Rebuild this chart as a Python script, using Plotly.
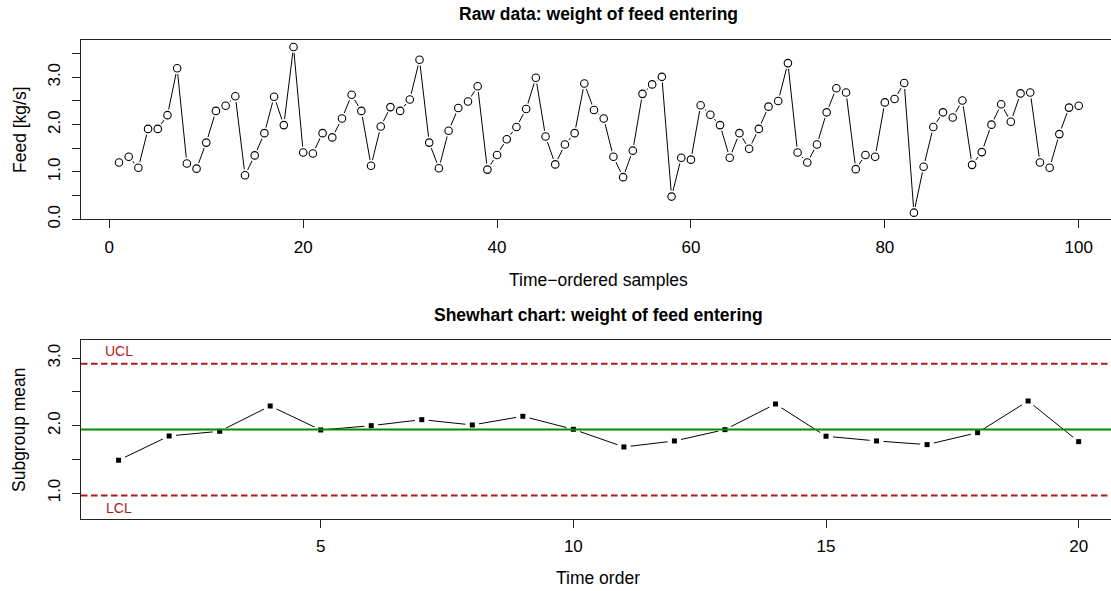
import plotly.graph_objects as go

# ---------------- data ----------------
sample_idx = list(range(1, 101))
feed = [1.20, 1.32, 1.09, 1.91, 1.91, 2.20, 3.19, 1.18, 1.07, 1.62,
        2.29, 2.40, 2.60, 0.93, 1.35, 1.82, 2.59, 1.99, 3.64, 1.41,
        1.39, 1.82, 1.73, 2.13, 2.63, 2.29, 1.13, 1.96, 2.37, 2.29,
        2.53, 3.37, 1.62, 1.08, 1.87, 2.35, 2.49, 2.81, 1.05, 1.36,
        1.69, 1.95, 2.33, 2.99, 1.75, 1.16, 1.58, 1.82, 2.87, 2.31,
        2.13, 1.32, 0.89, 1.45, 2.65, 2.85, 3.01, 0.48, 1.30, 1.26,
        2.41, 2.21, 1.99, 1.30, 1.82, 1.49, 1.91, 2.38, 2.50, 3.30,
        1.41, 1.20, 1.58, 2.26, 2.77, 2.68, 1.06, 1.36, 1.32, 2.47,
        2.54, 2.88, 0.14, 1.11, 1.95, 2.26, 2.15, 2.51, 1.15, 1.42,
        2.00, 2.43, 2.06, 2.66, 2.68, 1.20, 1.09, 1.80, 2.36, 2.40]

group_idx = list(range(1, 21))
group_mean = [1.487, 1.847, 1.917, 2.292, 1.936, 2.000, 2.089, 2.010, 2.139, 1.946,
              1.684, 1.773, 1.941, 2.321, 1.843, 1.773, 1.719, 1.896, 2.366, 1.763]

UCL = 2.92
LCL = 0.964
CENTER = 1.942

top_y_ticks = [0.0, 0.5, 1.0, 1.5, 2.0, 2.5, 3.0, 3.5]
top_y_text = ["0.0", "", "1.0", "", "2.0", "", "3.0", ""]
top_x_ticks = [0, 20, 40, 60, 80, 100]
bot_y_ticks = [1.0, 1.5, 2.0, 2.5, 3.0]
bot_y_text = ["1.0", "", "2.0", "", "3.0"]
bot_x_ticks = [5, 10, 15, 20]

# ---------------- layout geometry ----------------
W, H = 1111, 591
PLOT_L, PLOT_T, PLOT_B = 81, 40, 519
ML, MR, MT, MB = PLOT_L, 0, PLOT_T, H - PLOT_B
PW, PH = W - ML - MR, H - MT - MB


def px_x(px):
    return (px - PLOT_L) / PW


def px_y(py):
    return 1 - (py - PLOT_T) / PH


FONT = "Liberation Sans, Arial, Helvetica, sans-serif"
RED = "#B21A1A"
GREEN = "#008A00"

fig = go.Figure()

# top panel: line, white halos (gaps as in R type='b'), open circles
fig.add_trace(go.Scatter(x=sample_idx, y=feed, mode="lines",
                         line=dict(color="black", width=1), xaxis="x", yaxis="y",
                         showlegend=False, hoverinfo="skip"))
fig.add_trace(go.Scatter(x=sample_idx, y=feed, mode="markers",
                         marker=dict(color="white", size=12, line=dict(width=0)),
                         xaxis="x", yaxis="y", showlegend=False, hoverinfo="skip"))
fig.add_trace(go.Scatter(x=sample_idx, y=feed, mode="markers",
                         marker=dict(symbol="circle-open", color="black", size=7.5,
                                     line=dict(width=1.1, color="black")),
                         xaxis="x", yaxis="y", showlegend=False))

# bottom panel
fig.add_trace(go.Scatter(x=group_idx, y=group_mean, mode="lines",
                         line=dict(color="black", width=1), xaxis="x2", yaxis="y2",
                         showlegend=False, hoverinfo="skip"))
fig.add_trace(go.Scatter(x=group_idx, y=group_mean, mode="markers",
                         marker=dict(color="white", size=14, line=dict(width=0)),
                         xaxis="x2", yaxis="y2", showlegend=False, hoverinfo="skip"))
fig.add_trace(go.Scatter(x=group_idx, y=group_mean, mode="markers",
                         marker=dict(symbol="square", color="black", size=5),
                         xaxis="x2", yaxis="y2", showlegend=False))

# control lines
for val, col, dash in [(UCL, RED, "6.5px,3.5px"), (LCL, RED, "6.5px,3.5px"), (CENTER, GREEN, "solid")]:
    fig.add_shape(type="line", xref="x2 domain", yref="y2", x0=0, x1=1, y0=val, y1=val,
                  line=dict(color=col, width=2, dash=dash), layer="above")

axis_common = dict(showgrid=False, zeroline=False, showline=True, linecolor="#222",
                   linewidth=1, ticks="outside", ticklen=8, tickcolor="#222", tickwidth=1,
                   tickfont=dict(family=FONT, size=17, color="black"))

top_dom = [px_y(219.3), 1.0]
bot_dom = [0.0, px_y(340)]

fig.update_layout(
    width=W, height=H, margin=dict(l=ML, r=MR, t=MT, b=MB, autoexpand=False),
    paper_bgcolor="white", plot_bgcolor="white",
    xaxis=dict(axis_common, range=[-2.92, 103.33], tickvals=top_x_ticks, mirror=True,
               anchor="y", ticklabelstandoff=4),
    yaxis=dict(axis_common, range=[0, 3.788], domain=top_dom, tickvals=top_y_ticks,
               ticktext=top_y_text, tickangle=-90, anchor="x", ticklabelstandoff=5),
    xaxis2=dict(axis_common, range=[0.256, 20.64], tickvals=bot_x_ticks, mirror=True,
                anchor="y2", ticklabelstandoff=4),
    yaxis2=dict(axis_common, range=[0.615, 3.271], domain=bot_dom, tickvals=bot_y_ticks,
                ticktext=bot_y_text, tickangle=-90, anchor="x2", ticklabelstandoff=5),
)

ann = []
ann.append(dict(text="<b>Raw data: weight of feed entering</b>", x=px_x(598), y=px_y(14),
                font=dict(family=FONT, size=17.5, color="black")))
ann.append(dict(text="Time\u2212ordered samples", x=px_x(598), y=px_y(280),
                font=dict(family=FONT, size=17.5, color="black")))
ann.append(dict(text="Feed [kg/s]", x=px_x(20), y=px_y(130), textangle=-90,
                font=dict(family=FONT, size=17.5, color="black")))
ann.append(dict(text="<b>Shewhart chart: weight of feed entering</b>", x=px_x(598), y=px_y(315),
                font=dict(family=FONT, size=17.5, color="black")))
ann.append(dict(text="Time order", x=px_x(598), y=px_y(578),
                font=dict(family=FONT, size=17.5, color="black")))
ann.append(dict(text="Subgroup mean", x=px_x(19), y=px_y(430), textangle=-90,
                font=dict(family=FONT, size=17.5, color="black")))
for a in ann:
    a.update(xref="paper", yref="paper", showarrow=False, xanchor="center", yanchor="middle")
    fig.add_annotation(**a)

fig.add_annotation(text="UCL", x=group_idx[0], y=UCL, xref="x2", yref="y2", showarrow=False,
                   yshift=13, font=dict(family=FONT, size=14, color=RED))
fig.add_annotation(text="LCL", x=group_idx[0], y=LCL, xref="x2", yref="y2", showarrow=False,
                   yshift=-13, font=dict(family=FONT, size=14, color=RED))

# remove the default 8px body margin so the figure fills the window exactly
fig.write_html("out.html", config={"displayModeBar": False},
               post_script="document.body.style.margin='0';document.body.style.overflow='hidden';")
